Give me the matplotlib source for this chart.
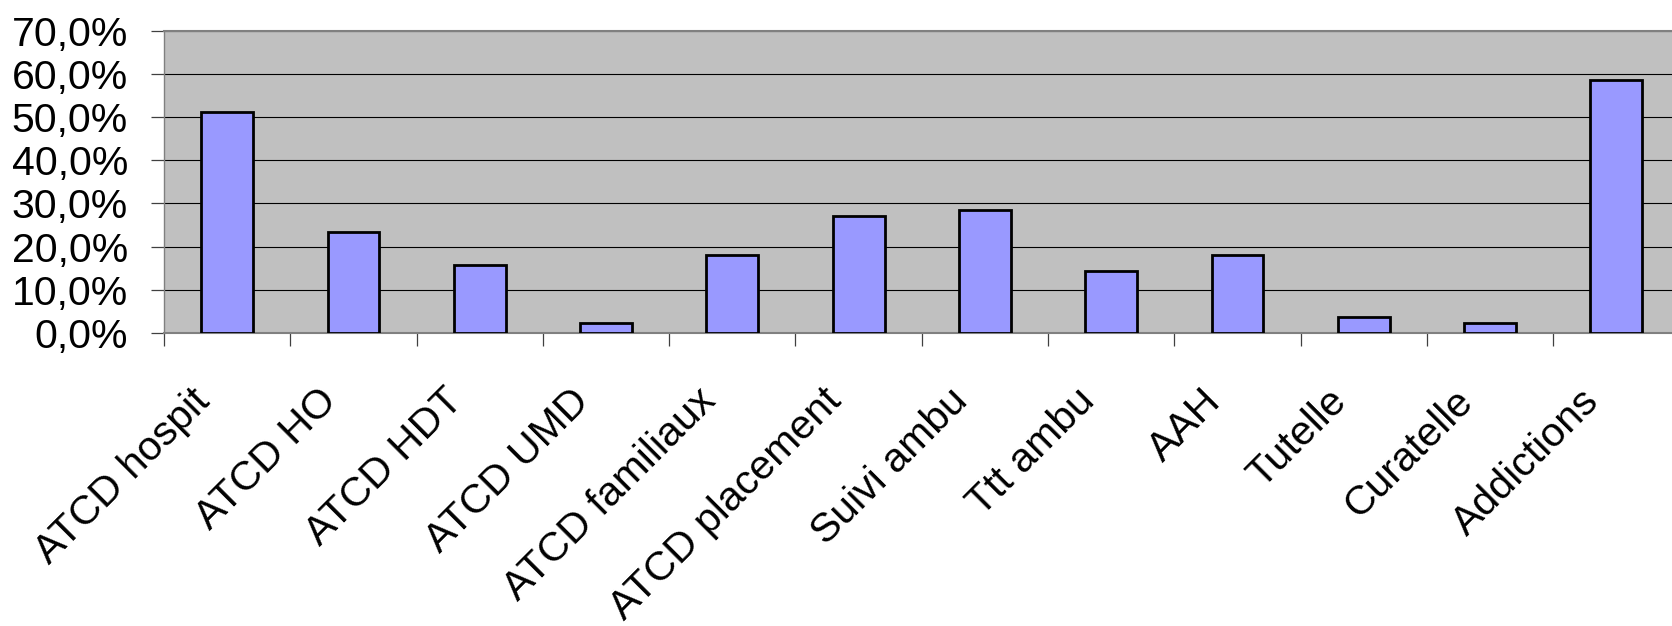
import matplotlib
matplotlib.use("Agg")
import matplotlib.pyplot as plt
from matplotlib.ticker import FuncFormatter
from matplotlib.transforms import ScaledTranslation

# pourcentages par item
categories = ["ATCD hospit", "ATCD HO", "ATCD HDT", "ATCD UMD", "ATCD familiaux",
              "ATCD placement", "Suivi ambu", "Ttt ambu", "AAH", "Tutelle",
              "Curatelle", "Addictions"]
valeurs = [51.1, 23.3, 15.8, 2.2, 18.0, 27.0, 28.5, 14.3, 18.0, 3.7, 2.2, 58.7]
graduations = [0, 10, 20, 30, 40, 50, 60, 70]

plt.rcParams['font.family'] = ['Liberation Sans', 'DejaVu Sans']

fig = plt.figure(figsize=(16.72, 6.26), dpi=100)
ax = fig.add_axes([0.0981, 0.4685, 0.9064, 0.482])

x = list(range(len(categories)))
ax.bar(x, valeurs, width=0.41, color='#9999FF', edgecolor='black', linewidth=2.0, zorder=3)

ax.set_facecolor('#C0C0C0')
ax.set_xlim(-0.5, len(categories) - 0.5)
ax.set_ylim(0, 70)
ax.set_yticks(graduations)
ax.yaxis.set_major_formatter(FuncFormatter(lambda v, p: ('%.1f%%' % v).replace('.', ',')))
ax.grid(axis='y', color='black', linewidth=0.8, zorder=1)

# traits de graduation entre les categories, libelles au centre
ax.set_xticks([i - 0.5 for i in range(len(categories) + 1)])
ax.set_xticklabels([])
ax.set_xticks(x, categories, minor=True)
ax.tick_params(axis='x', which='major', direction='out', length=9.5, width=0.9, color='#404040')
ax.tick_params(axis='x', which='minor', length=0, pad=45, labelsize=29.5)
ax.tick_params(axis='y', direction='out', length=9.5, width=0.9, color='#404040',
               pad=16.5, labelsize=29.5)
for lab in ax.get_xticklabels(minor=True):
    lab.set_rotation(45)
    lab.set_ha('right')
    lab.set_va('center')
    lab.set_rotation_mode('anchor')
    lab.set_transform(lab.get_transform() + ScaledTranslation(-23 / 100, 0, fig.dpi_scale_trans))

for s in ['top', 'left', 'bottom', 'right']:
    ax.spines[s].set_color('#808080')
ax.spines['top'].set_linewidth(1.5)
ax.spines['left'].set_linewidth(1.0)
ax.spines['bottom'].set_linewidth(1.5)

plt.savefig('out.png', dpi=100)
